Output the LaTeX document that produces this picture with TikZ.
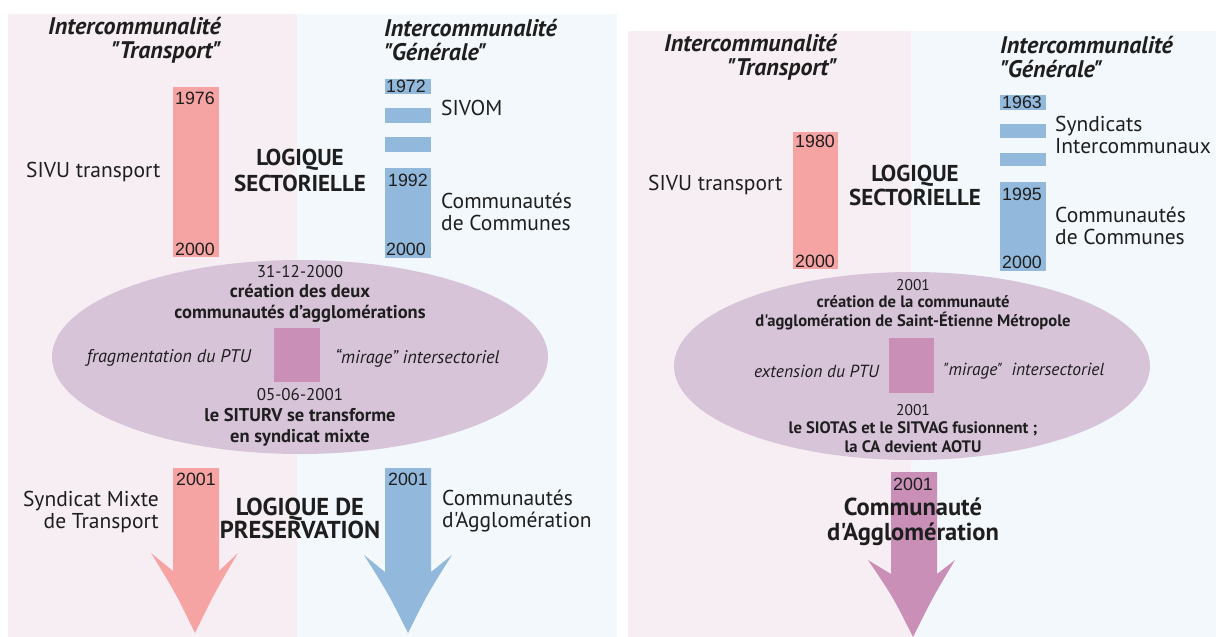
\documentclass[tikz,border=0pt]{standalone}
\usepackage{fontspec}
\newfontfamily\pt{PT Sans}
\newfontfamily\lib{Liberation Sans}
\newcommand\fsz[2]{\fontsize{#1}{#2}\selectfont}
\definecolor{pinkbg}{HTML}{F6EEF3}
\definecolor{bluebg}{HTML}{F3F8FC}
\definecolor{redbar}{HTML}{F5A3A3}
\definecolor{bluebar}{HTML}{92B8DB}
\definecolor{ellcol}{HTML}{D8C4D9}
\definecolor{sqcol}{HTML}{C98FB6}
\definecolor{ink}{HTML}{1E1E1E}
\begin{document}
\begin{tikzpicture}[x=1pt,y=-1pt,
  every node/.style={inner sep=0pt,text=ink},
  lbl/.style={font=\pt\fsz{21.5}{21.5}},
  ttl/.style={font=\pt\bfseries\itshape\fsz{24}{24}},
  logi/.style={font=\pt\bfseries\fsz{23}{26},align=center},
  num/.style={font=\lib\fsz{17.8}{18},anchor=base west},
  ellA/.style={font=\pt\fsz{17}{21},align=center},
  ellAb/.style={font=\pt\bfseries\fsz{18.5}{21},align=center},
  ellAi/.style={font=\pt\itshape\fsz{18.3}{21}},
  ellB/.style={font=\pt\fsz{15.5}{18.5},align=center},
  ellBb/.style={font=\pt\bfseries\fsz{16.6}{18.5},align=center},
  ellBi/.style={font=\pt\itshape\fsz{17.5}{18}},
  bigtxt/.style={font=\pt\bfseries\fsz{24.5}{25},align=center}]
\useasboundingbox (0,0) rectangle (1216,637);
\fill[white] (0,0) rectangle (1216,637);
% ---------------- left panel ----------------
\fill[pinkbg] (8,14) rectangle (297,637);
\fill[bluebg] (297,14) rectangle (617,637);
\node[ttl,align=right,anchor=east] (tl1) at (221,40) {Intercommunalité\\"Transport"};
\node[ttl,align=left,anchor=west] (tr1) at (384,40) {Intercommunalité\\"Générale"};
% bars
\fill[redbar] (173,87) rectangle (219,257);
\fill[bluebar] (385,79) rectangle (431,94);
\fill[bluebar] (385,108) rectangle (431,123);
\fill[bluebar] (385,137) rectangle (431,152);
\fill[bluebar] (385,168) rectangle (431,258);
\node[num] (a1976) at (175,104) {1976};
\node[num] (a2000) at (175,255) {2000};
\node[num] (b1972) at (386,92) {1972};
\node[num] (b1992) at (388,186) {1992};
\node[num] (b2000) at (386,255) {2000};
\node[lbl,anchor=west] (sivuA) at (26,172) {SIVU transport};
\node[lbl,anchor=west] (sivom) at (441,108) {SIVOM};
\node[lbl,anchor=west,align=left] (ccA) at (441,212) {Communautés\\de Communes};
\node[logi] (lsA) at (300,170) {LOGIQUE\\SECTORIELLE};
% ellipse
\fill[ellcol] (300,357) ellipse [x radius=248, y radius=97];
\fill[sqcol] (274,328) rectangle (320,382);
\node[ellA] (dA1) at (300,272) {31-12-2000};
\node[ellAb] (cA1) at (300,303) {création des deux\\communautés d’agglomérations};
\node[ellAi,anchor=east] (fA) at (251,358) {fragmentation du PTU};
\node[ellAi,anchor=west] (mA) at (335,358) {“mirage” intersectoriel};
\node[ellA] (dA2) at (300,395) {05-06-2001};
\node[ellAb] (cA2) at (300,427) {le SITURV se transforme\\en syndicat mixte};
% arrows
\fill[redbar] (173,468) -- (173,571) -- (151,553) .. controls (175,592) .. (195,633)
  .. controls (215,592) .. (238,553) -- (219,571) -- (219,468) -- cycle;
\fill[bluebar] (385,468) -- (385,572) -- (364,555) .. controls (388,593) .. (408,633)
  .. controls (428,593) .. (452,555) -- (431,572) -- (431,468) -- cycle;
\node[num] (a2001) at (176,485) {2001};
\node[num] (b2001) at (388,485) {2001};
\node[lbl,anchor=east,align=right] (smt) at (159,512) {Syndicat Mixte\\de Transport};
\node[lbl,anchor=west,align=left] (caA) at (442,511) {Communautés\\d'Agglomération};
\node[logi,font=\pt\bfseries\fsz{24.5}{23}] (lpA) at (300,518) {LOGIQUE DE\\PRESERVATION};
% ---------------- right panel ----------------
\fill[pinkbg] (628,31) rectangle (911,637);
\fill[bluebg] (911,31) rectangle (1216,637);
\node[ttl,align=right,anchor=east] (tl2) at (837,57) {Intercommunalité\\"Transport"};
\node[ttl,align=left,anchor=west] (tr2) at (1000,57) {Intercommunalité\\"Générale"};
\fill[redbar] (793,132) rectangle (838,269);
\fill[bluebar] (1000,95) rectangle (1046,110);
\fill[bluebar] (1000,124) rectangle (1046,138);
\fill[bluebar] (1000,153) rectangle (1046,166);
\fill[bluebar] (1000,182) rectangle (1046,271);
\node[num] (c1980) at (795,147) {1980};
\node[num] (c2000) at (795,267) {2000};
\node[num] (d1963) at (1002,108) {1963};
\node[num] (d1995) at (1002,200) {1995};
\node[num] (d2000) at (1002,268) {2000};
\node[lbl,anchor=west] (sivuB) at (648,185) {SIVU transport};
\node[lbl,anchor=west,align=left] (syB) at (1055,135) {Syndicats\\Intercommunaux};
\node[lbl,anchor=west,align=left] (ccB) at (1055,226) {Communautés\\de Communes};
\node[logi,font=\pt\bfseries\fsz{23}{24}] (lsB) at (915,185) {LOGIQUE\\SECTORIELLE};
\fill[ellcol] (912,366) ellipse [x radius=238, y radius=94];
\fill[sqcol] (889,338) rectangle (934,393);
\node[ellB] (dB1) at (913,285) {2001};
\node[ellBb,font=\pt\bfseries\fsz{16.6}{19}] (cB1) at (913,313) {création de la communauté\\d'agglomération de Saint-Étienne Métropole};
\node[ellBi,anchor=east] (eB) at (879,371) {extension du PTU};
\node[ellBi,anchor=west] (mB) at (943,371) {"mirage"\ \ intersectoriel};
\node[ellB] (dB2) at (913,410) {2001};
\node[ellBb] (cB2) at (913,437) {le SIOTAS et le SITVAG fusionnent ;\\la CA devient AOTU};
\fill[sqcol] (891,472) -- (891,574) -- (868,560) .. controls (893,597) .. (913,637)
  .. controls (933,597) .. (955,560) -- (937,574) -- (937,472) -- cycle;
\node[font=\lib\fsz{17.8}{18}] (e2001) at (913,484) {2001};
\node[bigtxt] (caB) at (913,522) {Communauté\\d'Agglomération};
\end{tikzpicture}
\end{document}
